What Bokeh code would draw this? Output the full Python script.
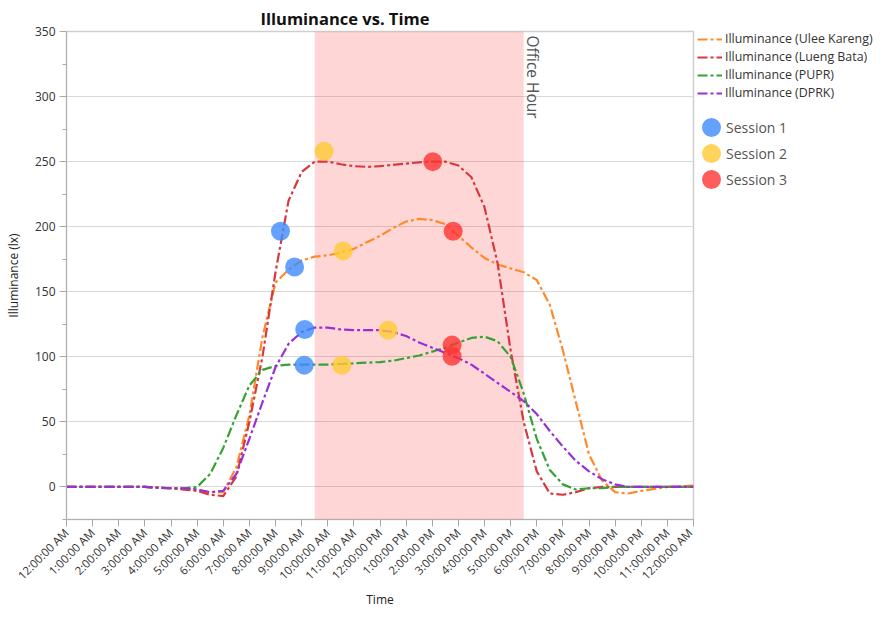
import math
import numpy as np
from bokeh.plotting import figure
from bokeh.layouts import row
from bokeh.models import (Range1d, FixedTicker, SingleIntervalTicker, BoxAnnotation, Label,
                          Legend, LegendItem)
from bokeh.embed import file_html
from bokeh.resources import INLINE

# ---------------- data ----------------
hours = [0, 1, 2, 3, 4, 4.5, 5, 5.5, 6, 6.5, 7, 7.5, 8, 8.5, 9, 9.5, 10, 10.5, 11, 11.5,
         12, 12.5, 13, 13.5, 14, 14.5, 15, 15.5, 16, 16.5, 17, 17.5, 18, 18.5, 19, 19.5,
         20, 20.5, 21, 21.5, 22, 23, 24]

ulee_kareng = [0, 0, 0, 0, -1, -1, -2, -4, -4, 15, 55, 115, 157, 167, 174,
               177, 178, 180, 183, 188, 193, 199, 204, 206, 205,
               202, 193, 184, 176, 171, 168, 165, 159, 140, 105,
               65, 25, 5, -4, -5, -3, 0, 1]
lueng_bata = [0, 0, 0, 0, -1, -2, -3, -6, -7, 8, 50, 100, 165, 220, 242,
              250, 250, 248, 246.5, 246, 246.5, 247.5, 248.5, 249.5, 250,
              250, 247, 238, 215, 172, 105, 50, 12, -5, -6,
              -4, -1, 0, 0, 0, 0, 0, 0]
pupr = [0, 0, 0, 0, -1, -1, 0, 10, 30, 55, 78, 90, 93, 94, 94,
        94, 94, 94.5, 95, 95.5, 96, 97, 99, 101, 104,
        107, 111, 114.5, 115.5, 112, 100, 72, 37, 13, 2,
        -2, -1, -1, 0, 0, 0, 0, 0]
dprk = [0, 0, 0, 0, -1, -1, -2, -4, -3, 10, 37, 65, 92, 110, 119,
        122.5, 122.5, 121, 120.5, 120.5, 120.5, 119, 116, 111, 107,
        103, 99, 94, 87, 80, 73, 66, 56, 43, 31,
        20, 12, 6, 2, 0, 0, 0, 0]

series_names = ["Illuminance (Ulee Kareng)", "Illuminance (Lueng Bata)",
                "Illuminance (PUPR)", "Illuminance (DPRK)"]
series_values = [ulee_kareng, lueng_bata, pupr, dprk]
series_colors = ["#ff8a2b", "#d7373f", "#34a334", "#9a2fd8"]

session1_h = [8.19, 8.73, 9.12, 9.10]
session1_v = [196.5, 169, 121, 93.6]
session2_h = [9.86, 10.59, 10.54, 12.31]
session2_v = [258, 181.4, 93.6, 120.5]
session3_h = [14.02, 14.80, 14.76, 14.76]
session3_v = [250, 196.5, 109, 100.5]
session_names = ["Session 1", "Session 2", "Session 3"]
session_colors = ["#3d8bfd", "#ffc933", "#ff3333"]
session_colors_on_white = ["#64a2fd", "#ffd45c", "#ff5c5c"]  # same colours at 80% over white

office_start, office_end = 9.5, 17.5

tick_hours = list(range(25))
tick_labels = ["12:00:00 AM", "1:00:00 AM", "2:00:00 AM", "3:00:00 AM", "4:00:00 AM",
               "5:00:00 AM", "6:00:00 AM", "7:00:00 AM", "8:00:00 AM", "9:00:00 AM",
               "10:00:00 AM", "11:00:00 AM", "12:00:00 PM", "1:00:00 PM", "2:00:00 PM",
               "3:00:00 PM", "4:00:00 PM", "5:00:00 PM", "6:00:00 PM", "7:00:00 PM",
               "8:00:00 PM", "9:00:00 PM", "10:00:00 PM", "11:00:00 PM", "12:00:00 AM"]

FONT = "Open Sans"
LINE_DASH = "10 3 3 3"
DOT_ALPHA = 0.8

# ---------------- main figure ----------------
H = 610
FRAME_TOP, FRAME_BOTTOM = 31, 520
p = figure(width=695, height=H, output_backend="svg", toolbar_location=None,
           x_range=Range1d(0, 24), y_range=Range1d(-25, 350),
           min_border_left=66, min_border_right=2, min_border_top=FRAME_TOP,
           min_border_bottom=H - FRAME_BOTTOM,
           title="Illuminance vs. Time")
p.background_fill_color = "white"
p.border_fill_color = "white"
p.outline_line_color = "#cfcfcf"
p.outline_line_width = 1.5

p.title.text_font = FONT
p.title.text_font_size = "16.5px"
p.title.text_font_style = "bold"
p.title.text_color = "#111111"
p.title.align = "left"
p.title.offset = 194
p.title.standoff = 4

band = BoxAnnotation(left=office_start, right=office_end, fill_color="#ff0000",
                     fill_alpha=0.16, line_alpha=0, level="underlay")
p.add_layout(band)

p.add_layout(Label(x=office_end, y=350, text="Office Hour", angle=-math.pi / 2,
                   x_offset=-2, y_offset=-4, text_align="left", text_baseline="bottom",
                   text_font=FONT, text_font_size="15.5px", text_color="#555555"))

for vals, col in zip(series_values, series_colors):
    p.line(hours, vals, line_color=col, line_width=2.2, line_dash=LINE_DASH)

for hs, vs, col in zip([session1_h, session2_h, session3_h],
                       [session1_v, session2_v, session3_v], session_colors):
    p.scatter(hs, vs, size=19, fill_color=col, fill_alpha=DOT_ALPHA, line_alpha=0)

p.xgrid.visible = False
p.ygrid.grid_line_color = "#d9d9d9"
p.ygrid.grid_line_width = 1

p.yaxis.ticker = SingleIntervalTicker(interval=50, num_minor_ticks=2)
p.xaxis.ticker = FixedTicker(ticks=tick_hours)
p.xaxis.major_label_overrides = {h: lab for h, lab in zip(tick_hours, tick_labels)}
p.xaxis.major_label_orientation = math.pi / 4

for ax in (p.xaxis[0], p.yaxis[0]):
    ax.axis_line_color = "#b0b0b0"
    ax.major_tick_line_color = "#a8a8a8"
    ax.minor_tick_line_color = "#a8a8a8"
    ax.major_tick_in = 0
    ax.major_tick_out = 7
    ax.minor_tick_in = 0
    ax.minor_tick_out = 4
    ax.major_label_text_font = FONT
    ax.major_label_text_color = "#333333"
    ax.axis_label_text_font = FONT
    ax.axis_label_text_font_style = "normal"
    ax.axis_label_text_color = "#222222"
    ax.axis_label_text_font_size = "12px"
    ax.major_label_standoff = 4

p.xaxis.minor_tick_line_color = None
p.xaxis.major_label_text_font_size = "11.5px"
p.yaxis.major_label_text_font_size = "12px"
p.xaxis.axis_label = "Time"
p.yaxis.axis_label = "Illuminance (lx)"
p.xaxis.axis_label_standoff = 0
p.yaxis.axis_label_standoff = 10

# ---------------- legend panel (frame aligned with the main frame) ----------------
LW = 182
q = figure(width=LW, height=H, output_backend="svg", toolbar_location=None,
           x_axis_type=None, y_axis_type=None,
           x_range=Range1d(0, 1), y_range=Range1d(0, 1),
           min_border=0, min_border_left=0, min_border_right=0,
           min_border_top=0, min_border_bottom=0)
q.outline_line_color = None
q.background_fill_color = "white"
q.border_fill_color = "white"
q.grid.visible = False

nan1 = np.array([np.nan])
leg_lines = [q.line(nan1, nan1, line_color=c, line_width=2.2, line_dash=LINE_DASH)
             for c in series_colors]
leg_dots = [q.scatter(nan1, nan1, size=8, fill_color=c, line_color=c, line_width=11)
            for c in session_colors_on_white]

L1_TOP, L1_H = 35, 4 * 16 + 3 * 1
L2_TOP, L2_H = 118, 3 * 20 + 2 * 6
leg1 = Legend(items=[LegendItem(label=n, renderers=[r]) for n, r in zip(series_names, leg_lines)],
              location=(2, FRAME_BOTTOM - L1_TOP - L1_H), glyph_width=25, glyph_height=16,
              label_height=16, spacing=1, label_standoff=3, padding=0, margin=0,
              border_line_alpha=0, background_fill_alpha=0,
              label_text_font=FONT, label_text_font_size="12.4px", label_text_color="#333333")
leg2 = Legend(items=[LegendItem(label=n, renderers=[r]) for n, r in zip(session_names, leg_dots)],
              location=(6, FRAME_BOTTOM - L2_TOP - L2_H), glyph_width=20, glyph_height=20,
              label_height=20, spacing=6, label_standoff=5, padding=0, margin=0,
              border_line_alpha=0, background_fill_alpha=0,
              label_text_font=FONT, label_text_font_size="14px", label_text_color="#555555")
q.add_layout(leg1)
q.add_layout(leg2)

layout = row(p, q)
open("out.html", "w").write(file_html(layout, INLINE))
